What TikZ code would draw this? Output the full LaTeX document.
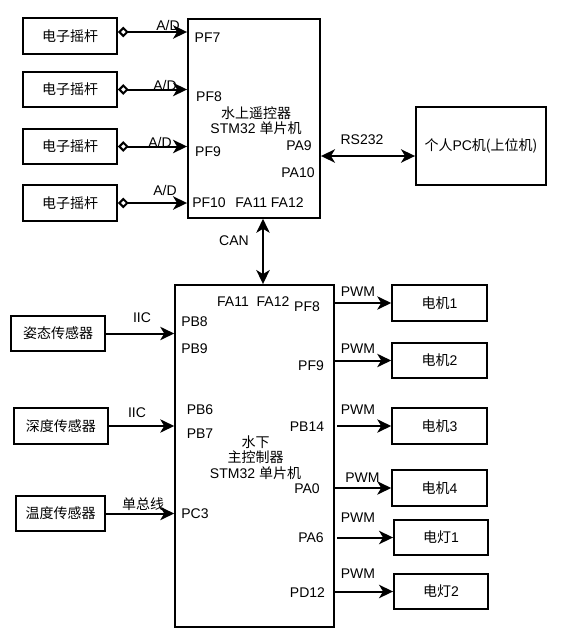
\documentclass[tikz,border=0pt]{standalone}
\usepackage{fontspec}
\setmainfont{Liberation Sans}
\newfontfamily\cjk{Noto Sans CJK SC}
\usetikzlibrary{arrows.meta, positioning}
\newcommand{\zh}[1]{{\cjk #1}}

\tikzset{
    blk/.style={draw, line width=1.4pt, inner sep=0pt},
    dev/.style={blk, minimum width=70.5pt, minimum height=26.5pt},
    sig/.style={line width=1.5pt, -{Stealth[length=10.5pt, width=10pt, inset=3pt]}},
    adc/.style={line width=1.5pt, {Diamond[open, fill=white, length=8pt, width=8pt]}-{Stealth[length=10.5pt, width=10pt, inset=3pt]}},
    bus/.style={line width=1.5pt, {Stealth[length=10.5pt, width=10pt, inset=3pt]}-{Stealth[length=10.5pt, width=10pt, inset=3pt]}},
    lbl/.style={inner sep=0pt}
}

\begin{document}
\begin{tikzpicture}[x=0.75pt, y=-0.75pt, font=\fontsize{10.5}{11.6}\selectfont]
    \useasboundingbox (0,0) rectangle (561,643);

    % upper controller and joysticks
    \node[blk, minimum width=99pt, minimum height=149pt] (up) at (254,118.5) {};
    \node[lbl, align=center] (upname) at (256,120.5) {\zh{水上遥控器}\\STM32 \zh{单片机}};
    \node[dev] (j1) at (70,36) {\zh{电子摇杆}};
    \node[dev] (j2) at (70,89.5) {\zh{电子摇杆}};
    \node[dev] (j3) at (70,146.5) {\zh{电子摇杆}};
    \node[dev] (j4) at (70,203) {\zh{电子摇杆}};
    \node[lbl] (pf7) at (207.5,38) {PF7};
    \node[lbl] (pf8) at (209,97) {PF8};
    \node[lbl] (pf9) at (208,152) {PF9};
    \node[lbl] (pf10) at (209,203) {PF10};
    \node[lbl] (fa) at (269.5,203) {FA11 FA12};
    \node[lbl] (pa9) at (299,146) {PA9};
    \node[lbl] (pa10) at (298,173) {PA10};
    \node[lbl] (ad1) at (168,25) {A/D};
    \node[lbl] (ad2) at (165,85) {A/D};
    \node[lbl] (ad3) at (160,142) {A/D};
    \node[lbl] (ad4) at (165,190) {A/D};
    \draw[adc] ([yshift=3pt]j1.east) -- ([yshift=3pt]j1.east -| up.west);
    \draw[adc] (j2.east) -- (j2.east -| up.west);
    \draw[adc] (j3.east) -- (j3.east -| up.west);
    \draw[adc] (j4.east) -- (j4.east -| up.west);

    % host pc
    \node[blk, minimum width=97.5pt, minimum height=58.5pt] (pc) at (481,146) {\zh{个人}PC\zh{机(上位机)}};
    \coordinate (rs) at ([yshift=-7.5pt]pc.west);
    \draw[bus] (up.east |- rs) -- (rs);
    \node[lbl] (rs232) at (362,140) {RS232};

    % lower controller
    \node[blk, minimum width=119pt, minimum height=256.5pt] (low) at (254.5,456) {};
    \node[lbl, align=center] (lowname) at (255.5,457.5) {\zh{水下}\\\zh{主控制器}\\STM32 \zh{单片机}};
    \draw[bus] ([xshift=6.75pt]up.south) -- ([xshift=6.75pt]up.south |- low.north);
    \node[lbl] (can) at (234,241) {CAN};
    \node[lbl] (fa11) at (233,302) {FA11};
    \node[lbl] (fa12) at (273,302) {FA12};
    \node[lbl] (pb8) at (194.5,322) {PB8};
    \node[lbl] (pb9) at (194.5,349) {PB9};
    \node[lbl] (pb6) at (200,410) {PB6};
    \node[lbl] (pb7) at (200,434) {PB7};
    \node[lbl] (pc3) at (195,514) {PC3};
    \node[lbl] (lpf8) at (307,307) {PF8};
    \node[lbl] (lpf9) at (311,366) {PF9};
    \node[lbl] (pb14) at (307,427) {PB14};
    \node[lbl] (pa0) at (307,489) {PA0};
    \node[lbl] (pa6) at (311,538) {PA6};
    \node[lbl] (pd12) at (307.5,593) {PD12};

    % sensors
    \node[dev] (s1) at (58,333.5) {\zh{姿态传感器}};
    \node[dev] (s2) at (61,426) {\zh{深度传感器}};
    \node[dev, minimum width=67pt] (s3) at (60.5,513.5) {\zh{温度传感器}};
    \draw[sig] (s1.east) -- (s1.east -| low.west);
    \draw[sig] (s2.east) -- (s2.east -| low.west);
    \draw[sig] (s3.east) -- (s3.east -| low.west);
    \node[lbl] (iic1) at (142,318) {IIC};
    \node[lbl] (iic2) at (137,413) {IIC};
    \node[lbl] (onewire) at (143,504) {\zh{单总线}};

    % motors and lamps
    \node[dev, minimum width=71pt] (m1) at (439.5,303) {\zh{电机}1};
    \node[dev, minimum width=71pt] (m2) at (439.5,360.5) {\zh{电机}2};
    \node[dev, minimum width=71pt] (m3) at (439.5,426) {\zh{电机}3};
    \node[dev, minimum width=71pt] (m4) at (439.5,488) {\zh{电机}4};
    \node[dev] (l1) at (441,537.5) {\zh{电灯}1};
    \node[dev] (l2) at (441,591.5) {\zh{电灯}2};
    \draw[sig] (low.east |- m1.west) -- (m1.west);
    \draw[sig] (low.east |- m2.west) -- (m2.west);
    \draw[sig] ([xshift=2pt]low.east |- m3.west) -- (m3.west);
    \draw[sig] (low.east |- m4.west) -- (m4.west);
    \draw[sig] ([xshift=2pt]low.east |- l1.west) -- (l1.west);
    \draw[sig] (low.east |- l2.west) -- (l2.west);
    \node[lbl] (pwm1) at (358,292) {PWM};
    \node[lbl] (pwm2) at (358,349) {PWM};
    \node[lbl] (pwm3) at (358,410) {PWM};
    \node[lbl] (pwm4) at (362.5,478) {PWM};
    \node[lbl] (pwm5) at (358,518) {PWM};
    \node[lbl] (pwm6) at (358,574) {PWM};
\end{tikzpicture}
\end{document}
